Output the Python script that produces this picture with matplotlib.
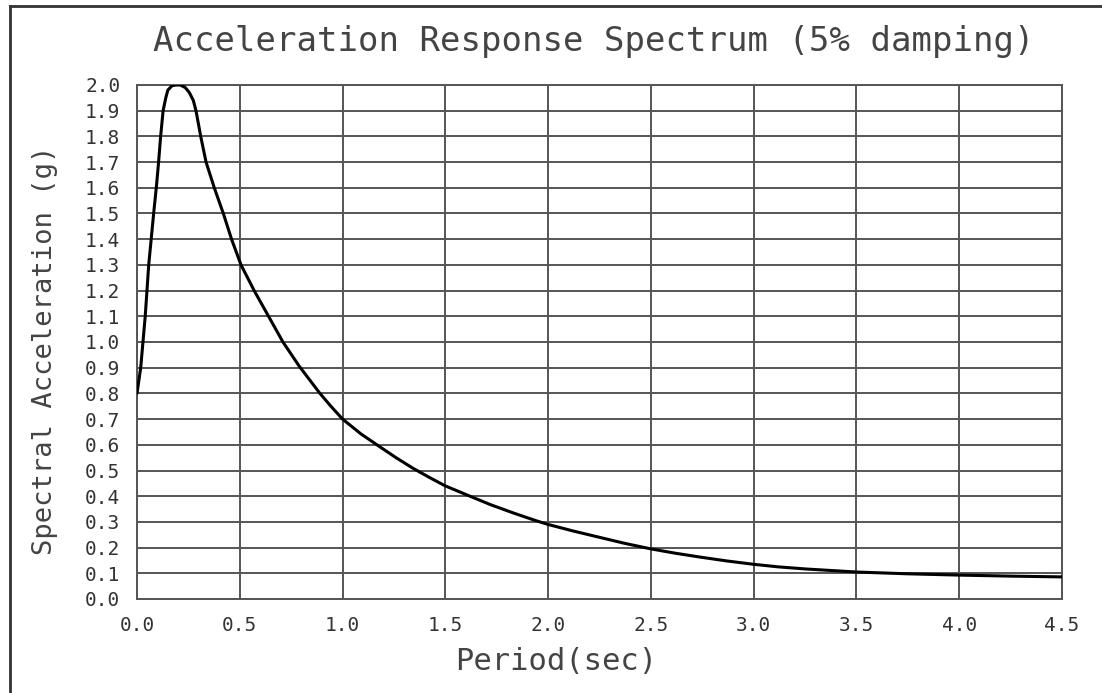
import numpy as np
import matplotlib
matplotlib.use("Agg")
import matplotlib.pyplot as plt
from matplotlib.lines import Line2D

# spectrum (period in sec, Sa in g)
period = [0.0, 0.018, 0.04, 0.057, 0.081, 0.095, 0.105, 0.115, 0.127, 0.14, 0.15, 0.17,
          0.19, 0.21, 0.235, 0.255, 0.274, 0.287, 0.31, 0.336, 0.376, 0.42, 0.46,
          0.506, 0.57, 0.64, 0.71, 0.79, 0.89, 0.94, 1.0, 1.09, 1.18, 1.26, 1.34,
          1.42, 1.5, 1.62, 1.72, 1.83, 1.94, 2.0, 2.12, 2.25, 2.37, 2.5, 2.62, 2.74,
          2.87, 3.0, 3.12, 3.25, 3.5, 3.75, 4.0, 4.25, 4.5]
accel = [0.80, 0.90, 1.10, 1.30, 1.50, 1.61, 1.70, 1.80, 1.90, 1.95, 1.98, 1.997,
         2.0, 2.0, 1.99, 1.97, 1.94, 1.90, 1.80, 1.70, 1.60, 1.50, 1.40,
         1.30, 1.20, 1.10, 1.00, 0.905, 0.80, 0.753, 0.70, 0.642, 0.593, 0.55, 0.51,
         0.474, 0.44, 0.40, 0.367, 0.335, 0.305, 0.29, 0.265, 0.24, 0.217, 0.195, 0.178,
         0.163, 0.148, 0.135, 0.125, 0.117, 0.105, 0.098, 0.093, 0.089, 0.086]

x_ticks = np.arange(0, 4.51, 0.5)
y_ticks = np.arange(0, 2.01, 0.1)

title = "Acceleration Response Spectrum (5% damping)"
x_label = "Period(sec)"
y_label = "Spectral Acceleration (g)"

W, H = 1102, 693
fig = plt.figure(figsize=(W / 100, H / 100), dpi=100)
fig.patch.set_facecolor("white")

ax = fig.add_axes([137 / W, (H - 599) / H, 925 / W, 514 / H])
ax.plot(period, accel, color="black", lw=2.2, solid_joinstyle="round",
        solid_capstyle="round", zorder=3)

ax.set_xlim(0, 4.5)
ax.set_ylim(0, 2.0)
ax.set_xticks(x_ticks)
ax.set_yticks(y_ticks)
ax.set_xticklabels([f"{v:.1f}" for v in x_ticks])
ax.set_yticklabels([f"{v:.1f}" for v in y_ticks])
ax.grid(True, color="#555555", lw=1.4)
for s in ax.spines.values():
    s.set_color("#555555")
    s.set_linewidth(1.4)
ax.tick_params(length=0, labelsize=14, labelcolor="#333333", pad=12)
for lab in ax.get_xticklabels() + ax.get_yticklabels():
    lab.set_family("DejaVu Sans Mono")

fig.text(594 / W, 1 - 42 / H, title, ha="center", va="center",
         family="DejaVu Sans Mono", fontsize=24.5, color="#444444")
fig.text(556 / W, 1 - 662 / H, x_label, ha="center", va="center",
         family="DejaVu Sans Mono", fontsize=22, color="#444444")
fig.text(45 / W, 1 - 350 / H, y_label, ha="center", va="center", rotation=90,
         family="DejaVu Sans Mono", fontsize=19.5, color="#444444")

# drawing frame (left and top edges visible)
fig.add_artist(Line2D([10 / W, 10 / W], [0, 1 - 6 / H], transform=fig.transFigure,
                      color="#333333", lw=2))
fig.add_artist(Line2D([10 / W, 1], [1 - 6 / H, 1 - 6 / H], transform=fig.transFigure,
                      color="#333333", lw=2))

fig.savefig("out.png", dpi=100)
